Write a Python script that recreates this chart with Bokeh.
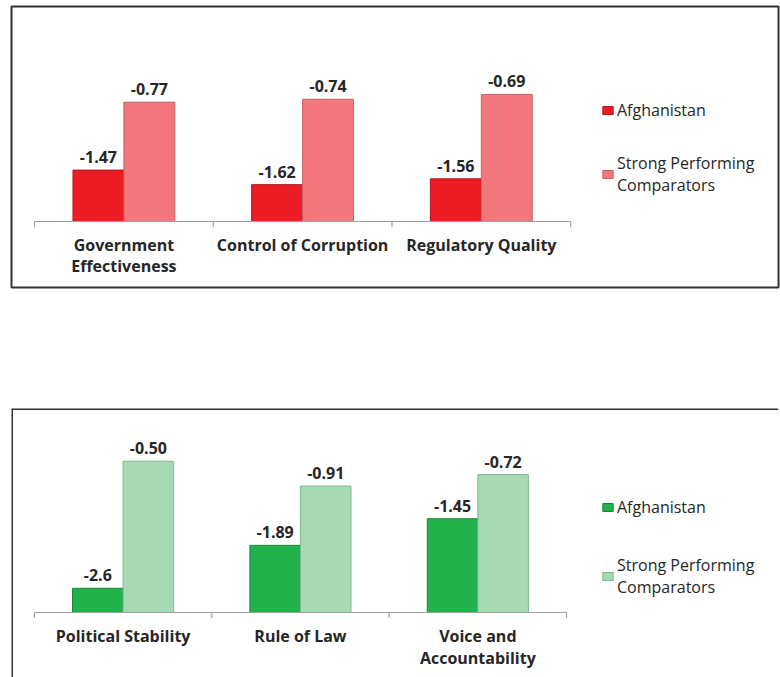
from bokeh.plotting import figure
from bokeh.models import Range1d, Legend, LegendItem, Span, Spacer
from bokeh.layouts import column
from bokeh.core.properties import value
from bokeh.embed import file_html
from bokeh.resources import INLINE

# ---- data ----
series = ["Afghanistan", "Strong Performing\nComparators"]

cats_top = ["Government\nEffectiveness", "Control of Corruption", "Regulatory Quality"]
afg_top = [-1.47, -1.62, -1.56]
comp_top = [-0.77, -0.74, -0.69]
afg_top_lbl = ["-1.47", "-1.62", "-1.56"]
comp_top_lbl = ["-0.77", "-0.74", "-0.69"]
base_top = -2.0

cats_bot = ["Political Stability", "Rule of Law", "Voice and\nAccountability"]
afg_bot = [-2.6, -1.89, -1.45]
comp_bot = [-0.50, -0.91, -0.72]
afg_bot_lbl = ["-2.6", "-1.89", "-1.45"]
comp_bot_lbl = ["-0.50", "-0.91", "-0.72"]
base_bot = -3.0

FONT = "Open Sans"
TXT = "#262626"


def panel(cats, afg, comp, afg_lbl, comp_lbl, base, cols, height, mb, xr, yr,
          leg_loc, leg_spacing, cat_offset, cat_lh, outline):
    p = figure(width=780, height=height, x_range=Range1d(*xr), y_range=Range1d(*yr),
               x_axis_type=None, y_axis_type=None, output_backend="svg",
               toolbar_location=None, min_border=0)
    p.min_border_top, p.min_border_bottom, p.min_border_left, p.min_border_right = mb
    p.background_fill_color = "white"
    p.border_fill_color = "white"
    if outline:
        p.outline_line_color = "#333333"
        p.outline_line_width = 2
    else:
        p.outline_line_color = None
        p.add_layout(Span(location=yr[1], dimension="width", line_color="#333333", line_width=3))
        p.add_layout(Span(location=xr[0], dimension="height", line_color="#333333", line_width=3))

    n = len(cats)
    w = 0.285
    xa = [i + 0.5 - w / 2 for i in range(n)]
    xc = [i + 0.5 + w / 2 for i in range(n)]

    r1 = p.vbar(x=xa, top=afg, bottom=base, width=w, fill_color=cols[0],
                line_color=cols[1], line_width=1)
    r2 = p.vbar(x=xc, top=comp, bottom=base, width=w, fill_color=cols[2],
                line_color=cols[3], line_width=1)

    # category axis drawn inside the frame
    p.segment(x0=[0], y0=[base], x1=[n], y1=[base], line_color="#a0a0a0", line_width=1.2)
    tick = (yr[1] - yr[0]) * 0.02
    p.segment(x0=list(range(n + 1)), y0=[base] * (n + 1), x1=list(range(n + 1)),
              y1=[base - tick] * (n + 1), line_color="#a0a0a0", line_width=1.2)
    p.text(x=[i + 0.5 for i in range(n)], y=[base] * n, text=cats, y_offset=cat_offset,
           text_align="center", text_baseline="top", text_font=value(FONT),
           text_font_style="bold", text_font_size="16px", text_color=TXT,
           text_line_height=cat_lh)

    # value labels
    p.text(x=xa, y=afg, text=afg_lbl, y_offset=-13, text_align="center",
           text_baseline="alphabetic", text_font=value(FONT), text_font_style="bold",
           text_font_size="16px", text_color=TXT)
    p.text(x=xc, y=comp, text=comp_lbl, y_offset=-13, text_align="center",
           text_baseline="alphabetic", text_font=value(FONT), text_font_style="bold",
           text_font_size="16px", text_color=TXT)

    leg = Legend(items=[LegendItem(label=series[0], renderers=[r1]),
                        LegendItem(label=series[1], renderers=[r2])],
                 location=leg_loc, glyph_width=13, glyph_height=10, label_standoff=3,
                 spacing=leg_spacing, padding=0, margin=0, border_line_color=None,
                 background_fill_alpha=0, label_text_font=FONT,
                 label_text_font_size="16px", label_text_color=TXT)
    p.add_layout(leg)
    return p


p1 = panel(cats_top, afg_top, comp_top, afg_top_lbl, comp_top_lbl, base_top,
           ["#EC1C24", "#B3161C", "#F2787E", "#C9606A"],
           290, (6, 3, 11, 2), (-0.129, 4.163), (-2.680, 0.216),
           (590, 91), 31, 12, 0.96, True)

p2 = panel(cats_bot, afg_bot, comp_bot, afg_bot_lbl, comp_bot_lbl, base_bot,
           ["#22B24C", "#178838", "#A7D9B5", "#7DB890"],
           277, (8, 0, 8, 0), (-0.129, 4.195), (-4.074, 0.372),
           (590, 79), 36, 12, 1.04, False)

layout = column(p1, Spacer(width=780, height=110), p2)
open("out.html", "w").write(file_html(layout, INLINE))
